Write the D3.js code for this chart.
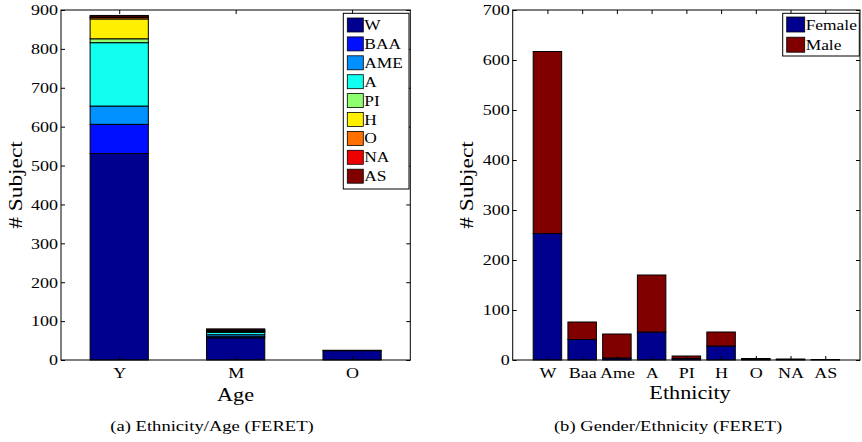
<!DOCTYPE html>
<html><head><meta charset="utf-8">
<script src="https://cdn.jsdelivr.net/npm/d3@7"></script>
<style>
body{margin:0;background:#fff}
svg{display:block}
text{font-family:"Liberation Serif","Times New Roman",serif;fill:#000}
</style>
</head><body>
<svg id="chart" width="862" height="442"></svg>
<script>
// ---------- data: panel (a) ----------
const ageCategories = ["Y", "M", "O"];
const ethnicityKeys = ["W", "BAA", "AME", "A", "PI", "H", "O", "NA", "AS"];
const ageW   = [531, 57, 24];
const ageBAA = [75, 3, 0];
const ageAME = [47, 5, 0];
const ageA   = [163, 6, 0];
const agePI  = [10, 2, 0];
const ageH   = [51, 2, 0];
const ageO   = [4, 1, 0];
const ageNA  = [1, 1, 0];
const ageAS  = [4, 3, 1];
const ethnicityColors = ["#00008F", "#0010FF", "#0090FF", "#10FFEF", "#8FFF70", "#FFEF00", "#FF7000", "#EF0000", "#800000"];
const yTicksA = [0, 100, 200, 300, 400, 500, 600, 700, 800, 900];

// ---------- data: panel (b) ----------
const ethCategories = ["W", "Baa", "Ame", "A", "PI", "H", "O", "NA", "AS"];
const femaleCounts = [253, 41, 4, 56, 3, 28, 2, 1, 0];
const maleCounts   = [364, 35, 48, 114, 5, 28, 1, 1, 1];
const genderKeys = ["Female", "Male"];
const genderColors = ["#00008F", "#800000"];
const yTicksB = [0, 100, 200, 300, 400, 500, 600, 700];

// ---------- drawing ----------
const SX = 1.2;
const svg = d3.select("#chart");

function label(g, s, x, y, size, anchor, rot) {
  return g.append("text").text(s)
    .attr("font-size", size)
    .attr("text-anchor", anchor)
    .attr("transform", `translate(${x},${y})` + (rot ? " rotate(-90)" : "") + ` scale(${SX},1)`);
}

function panel(cfg) {
  const g = svg.append("g");
  const x = d3.scaleLinear().domain(cfg.xDomain).range([cfg.x0, cfg.x1]);
  const y = d3.scaleLinear().domain(cfg.yDomain).range([cfg.y1, cfg.y0]);
  const rows = cfg.categories.map((c, i) => {
    const r = {cat: c, pos: i + 1};
    cfg.keys.forEach((k, j) => r[k] = cfg.series[j][i]);
    return r;
  });
  const stacked = d3.stack().keys(cfg.keys)(rows);
  const bw = cfg.barWidth;

  stacked.forEach((layer, li) => {
    g.append("g").selectAll("rect").data(layer).join("rect")
      .attr("x", d => x(d.data.pos - bw / 2))
      .attr("width", d => x(d.data.pos + bw / 2) - x(d.data.pos - bw / 2))
      .attr("y", d => y(d[1]))
      .attr("height", d => y(d[0]) - y(d[1]))
      .attr("fill", cfg.colors[li])
      .attr("stroke", "#000")
      .attr("stroke-width", 1);
  });

  const tickPos = cfg.categories.map((c, i) => i + 1);
  const fmt = v => cfg.categories[v - 1];

  // left axis
  g.append("g").attr("transform", `translate(${cfg.x0},0)`)
    .call(d3.axisLeft(y).tickValues(cfg.yTicks).tickSizeInner(-4).tickSizeOuter(0).tickPadding(0))
    .call(a => a.attr("font-size", null).attr("font-family", null))
    .call(a => a.select(".domain").remove())
    .call(a => a.selectAll("text").attr("x", 0).attr("font-size", 15)
      .attr("transform", `translate(-3,0) scale(${SX},1)`));
  // right mirrored ticks
  g.append("g").attr("transform", `translate(${cfg.x1},0)`)
    .call(d3.axisRight(y).tickValues(cfg.yTicks).tickSizeInner(-4).tickSizeOuter(0).tickFormat(""))
    .call(a => a.select(".domain").remove());
  // bottom axis
  g.append("g").attr("transform", `translate(0,${cfg.y1})`)
    .call(d3.axisBottom(x).tickValues(tickPos).tickFormat(fmt).tickSizeInner(-4).tickSizeOuter(0).tickPadding(0))
    .call(a => a.attr("font-size", null).attr("font-family", null))
    .call(a => a.select(".domain").remove())
    .call(a => a.selectAll("text").attr("y", 0).attr("dy", null).attr("font-size", 15)
      .attr("transform", `translate(0,${cfg.xTickBase}) scale(${SX},1)`));
  // top mirrored ticks
  g.append("g").attr("transform", `translate(0,${cfg.y0})`)
    .call(d3.axisTop(x).tickValues(tickPos).tickSizeInner(-4).tickSizeOuter(0).tickFormat(""))
    .call(a => a.select(".domain").remove());

  // box
  g.append("rect").attr("x", cfg.x0).attr("y", cfg.y0)
    .attr("width", cfg.x1 - cfg.x0).attr("height", cfg.y1 - cfg.y0)
    .attr("fill", "none").attr("stroke", "#000").attr("stroke-width", 1);

  // axis labels
  label(g, cfg.xLabel, cfg.xLabelX, cfg.xLabelY, 18.5, "middle");
  label(g, "# Subject", cfg.yLabelX, (cfg.y0 + cfg.y1) / 2, 19.5, "middle", true);
  // caption
  label(g, cfg.caption, cfg.captionX, 431, 15.5, "middle");

  // legend
  const L = cfg.legend;
  const lg = g.append("g");
  lg.append("rect").attr("x", L.x).attr("y", L.y).attr("width", L.w).attr("height", L.h)
    .attr("fill", "#fff").attr("stroke", "#000").attr("stroke-width", 1);
  cfg.keys.forEach((k, i) => {
    const cy = L.firstY + i * L.step;
    lg.append("rect").attr("x", L.x + 4).attr("y", cy - L.sh / 2)
      .attr("width", L.sw).attr("height", L.sh)
      .attr("fill", cfg.colors[i]).attr("stroke", "#000").attr("stroke-width", 0.8);
    label(lg, k, L.x + 5 + L.sw, cy + 5, 14.5, "start");
  });
}

panel({
  x0: 61, x1: 410.3, y0: 10, y1: 360,
  xDomain: [0.5, 3.5], yDomain: [0, 900],
  categories: ageCategories, keys: ethnicityKeys,
  series: [ageW, ageBAA, ageAME, ageA, agePI, ageH, ageO, ageNA, ageAS],
  colors: ethnicityColors, barWidth: 0.5, yTicks: yTicksA, xTickBase: 18,
  xLabel: "Age", xLabelX: 235.5, xLabelY: 401, yLabelX: 22,
  caption: "(a) Ethnicity/Age (FERET)", captionX: 212,
  legend: {x: 343.3, y: 13.3, w: 65.7, h: 175.7, firstY: 25, step: 18.9, sw: 16, sh: 14}
});

panel({
  x0: 512.7, x1: 860, y0: 10, y1: 360,
  xDomain: [0, 10], yDomain: [0, 700],
  categories: ethCategories, keys: genderKeys,
  series: [femaleCounts, maleCounts],
  colors: genderColors, barWidth: 0.82, yTicks: yTicksB, xTickBase: 18,
  xLabel: "Ethnicity", xLabelX: 690, xLabelY: 399, yLabelX: 473,
  caption: "(b) Gender/Ethnicity (FERET)", captionX: 668,
  legend: {x: 782.7, y: 13.3, w: 76.6, h: 42.7, firstY: 24.5, step: 20.2, sw: 18, sh: 15}
});
</script>
</body></html>
